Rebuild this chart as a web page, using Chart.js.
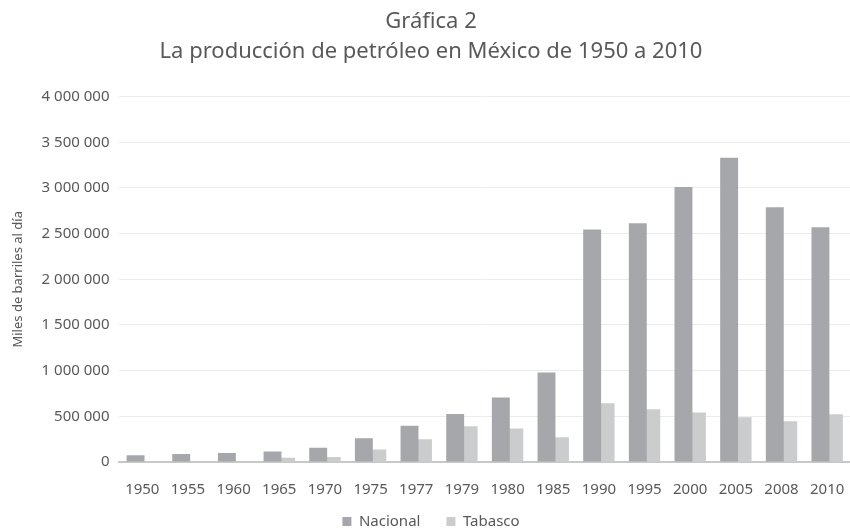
<!DOCTYPE html>
<html>
<head>
<meta charset="utf-8">
<script src="https://cdn.jsdelivr.net/npm/chart.js@4"></script>
<style>
  body { margin: 0; background: #fff; }
  #wrap { width: 850px; height: 530px; overflow: hidden; }
</style>
</head>
<body>
<div id="wrap"><canvas id="chart" width="850" height="530"></canvas></div>
<script>
// --- data ---
const years = ["1950", "1955", "1960", "1965", "1970", "1975", "1977", "1979",
               "1980", "1985", "1990", "1995", "2000", "2005", "2008", "2010"]
const nacional = [73000, 87000, 98000, 116000, 156000, 261000, 396000, 526000,
                  705000, 980000, 2546000, 2614000, 3010000, 3330000, 2789000, 2571000]
const tabasco = [2000, 3000, 5000, 47000, 54000, 138000, 250000, 392000,
                 367000, 272000, 643000, 577000, 541000, 490000, 447000, 523000]
const yTicks = [0, 500000, 1000000, 1500000, 2000000, 2500000, 3000000, 3500000, 4000000]

const textColor = "#595959"
Chart.defaults.font.family = "'Noto Sans', sans-serif"
Chart.defaults.color = textColor

// thousands with a space: 4 000 000
function fmt(v) {
    return String(v).replace(/\B(?=(\d{3})+(?!\d))/g, " ")
}

// legend sits closer to the axis labels than Chart.js allows by default
const legendTweak = {
    id: "legendTweak",
    afterInit(chart) {
        const fit = chart.legend.fit
        chart.legend.fit = function () {
            fit.bind(chart.legend)()
            this.height = 30
        }
    },
    afterLayout(chart) {
        chart.legend.top = chart.height - 42
    }
}

new Chart(document.getElementById("chart"), {
    type: "bar",
    data: {
        labels: years,
        datasets: [
            {
                label: "Nacional",
                data: nacional,
                backgroundColor: "#a6a7aa",
                categoryPercentage: 0.59,
                barPercentage: 1.33
            },
            {
                label: "Tabasco",
                data: tabasco,
                backgroundColor: "#cbcccd",
                categoryPercentage: 0.59,
                barPercentage: 1.33
            }
        ]
    },
    plugins: [legendTweak],
    options: {
        responsive: false,
        animation: false,
        layout: { padding: { left: 6, right: -6, top: 2, bottom: 0 } },
        plugins: {
            title: {
                display: true,
                text: ["Gráfica 2", "La producción de petróleo en México de 1950 a 2010"],
                font: { size: 22, weight: "normal", lineHeight: 1.4 },
                color: textColor,
                padding: { top: 4, bottom: 29 }
            },
            legend: {
                position: "bottom",
                labels: {
                    boxWidth: 9,
                    boxHeight: 9,
                    font: { size: 15 },
                    padding: 26,
                    color: textColor
                }
            },
            tooltip: { enabled: false }
        },
        scales: {
            x: {
                grid: { display: false, drawTicks: false },
                border: { color: "#c8c8c8", width: 2 },
                ticks: { font: { size: 15 }, padding: 19, maxRotation: 0 },
                afterFit: axis => {
                    axis.paddingLeft = 0
                    axis.paddingRight = 0
                    axis.height = 38
                }
            },
            y: {
                min: 0,
                max: 4000000,
                afterBuildTicks: axis => { axis.ticks = yTicks.map(v => ({ value: v })) },
                grid: { color: "#ececec", lineWidth: 1, drawTicks: false },
                border: { display: false },
                ticks: {
                    font: { size: 15 },
                    padding: 10,
                    callback: v => fmt(v)
                },
                title: {
                    display: true,
                    text: "Miles de barriles al día",
                    font: { size: 13 },
                    padding: { bottom: 6 }
                }
            }
        }
    }
})
</script>
</body>
</html>
